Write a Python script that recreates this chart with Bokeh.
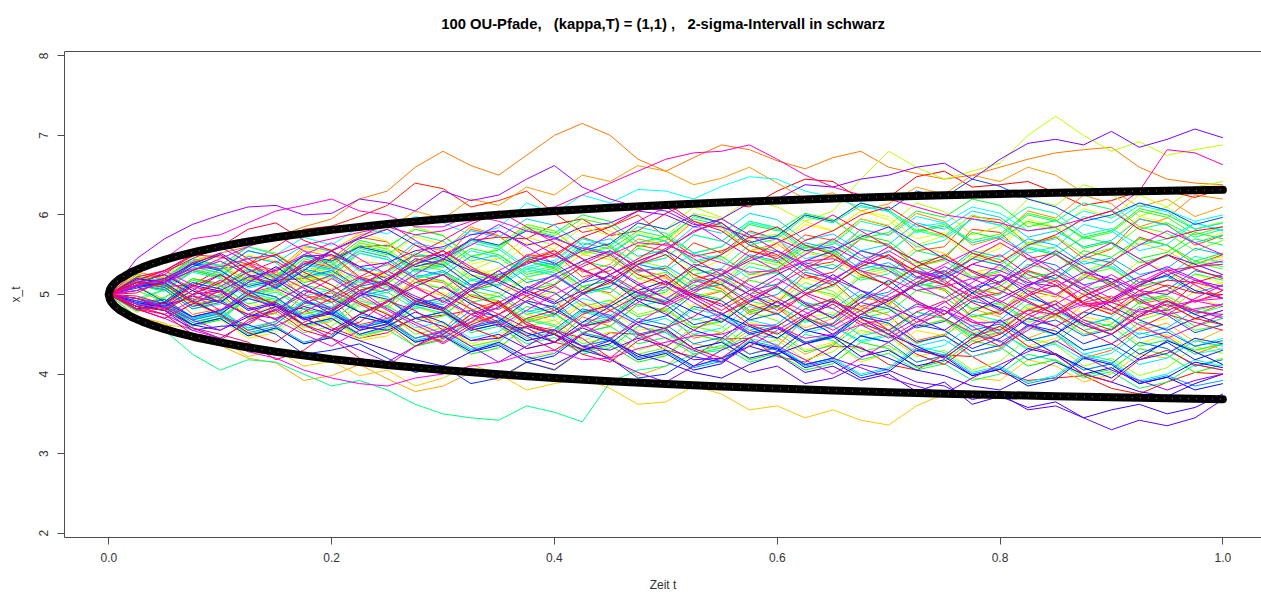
import colorsys
from bokeh.plotting import figure
from bokeh.models import LinearAxis, Range1d, FixedTicker, PrintfTickFormatter
from bokeh.embed import file_html
from bokeh.resources import INLINE

title_text = "100 OU-Pfade, \u00a0 (kappa,T) = (1,1) , \u00a0 2-sigma-Intervall in schwarz"
x_label = "Zeit t"
y_label = "x_t"
x_ticks = [0.0, 0.2, 0.4, 0.6, 0.8, 1.0]
y_ticks = [2, 3, 4, 5, 6, 7, 8]

# time grid of the read-off path samples
t_grid = [0.0, 0.025, 0.05, 0.075, 0.1, 0.125, 0.15, 0.175, 0.2, 0.225, 0.25,
          0.275, 0.3, 0.325, 0.35, 0.375, 0.4, 0.425, 0.45, 0.475, 0.5,
          0.525, 0.55, 0.575, 0.6, 0.625, 0.65, 0.675, 0.7, 0.725, 0.75,
          0.775, 0.8, 0.825, 0.85, 0.875, 0.9, 0.925, 0.95, 0.975, 1.0]

# 100 OU paths (path i is drawn in rainbow colour i)
x_paths = [
    [5, 5.16, 5.1, 5.12, 5.32, 5.38, 5.18, 5.2, 5.45, 5.6, 5.62, 5.48, 5.5, 5.68, 5.72, 5.7, 5.88, 5.95, 5.74, 5.8, 6.02, 6.18, 6.15, 6.1, 6.3, 6.45, 6.42, 6.2, 6.22, 6.48, 6.55, 6.35, 6.38, 6.42, 6.28, 6.12, 6.18, 6.3, 6.3, 6.22, 6.33],
    [5, 4.8, 4.88, 4.95, 4.72, 4.62, 4.85, 4.82, 4.58, 4.45, 4.52, 4.7, 4.74, 4.8, 4.6, 4.58, 4.4, 4.32, 4.52, 4.5, 4.3, 4.22, 4.44, 4.45, 4.22, 4.15, 4.35, 4.34, 4.12, 4.05, 4.24, 4.22, 4.02, 3.92, 3.95, 3.98, 3.82, 3.75, 3.9, 4.02, 4.0],
    [5, 5.2, 5.25, 5.5, 5.47, 5.38, 5.6, 5.82, 5.86, 5.98, 6.12, 6.4, 6.33, 6.1, 6.18, 6.3, 6.02, 5.78, 5.85, 6.0, 5.72, 5.48, 5.55, 5.68, 5.42, 5.2, 5.28, 5.55, 5.45, 5.3, 5.18, 4.95, 5.02, 5.3, 5.16, 4.88, 4.92, 5.2, 5.1, 4.9, 5.05],
    [5, 5.2, 5.14, 4.88, 4.93, 5.22, 5.1, 5.42, 5.34, 5.05, 5.16, 5.45, 5.38, 5.12, 5.2, 5.5, 5.47, 5.72, 5.6, 5.3, 5.33, 5.65, 5.52, 5.8, 5.7, 5.35, 5.41, 5.7, 5.63, 5.35, 5.45, 5.82, 5.78, 5.45, 5.52, 5.25, 5.38, 5.72, 5.62, 5.38, 5.5],
    [5, 4.8, 4.86, 5.1, 5.02, 4.7, 4.77, 5.05, 4.95, 4.62, 4.7, 4.45, 4.55, 4.9, 4.81, 5.05, 4.93, 4.6, 4.66, 4.95, 4.88, 5.18, 5.07, 4.8, 4.9, 5.25, 5.16, 4.85, 4.94, 4.65, 4.75, 5.08, 5.0, 5.3, 5.2, 4.9, 4.98, 4.72, 4.82, 5.15, 5.06],
    [5, 5.25, 5.2, 5.42, 5.31, 5.02, 5.1, 5.38, 5.45, 5.72, 5.66, 5.35, 5.42, 5.82, 5.74, 5.45, 5.52, 5.22, 5.3, 5.62, 5.55, 5.2, 5.26, 5.55, 5.48, 5.75, 5.68, 5.95, 5.86, 5.55, 5.6, 5.98, 5.94, 5.62, 5.72, 5.45, 5.57, 5.95, 5.88, 5.62, 5.74],
    [5, 4.85, 4.9, 5.2, 5.14, 5.4, 5.3, 4.95, 5.02, 4.78, 4.86, 5.2, 5.15, 4.8, 4.92, 4.65, 4.74, 5.1, 5.02, 5.32, 5.22, 4.95, 5.04, 4.75, 4.84, 4.55, 4.64, 4.98, 4.88, 5.15, 5.05, 4.72, 4.78, 5.05, 4.97, 5.25, 5.16, 4.88, 4.95, 4.75, 4.88],
    [5, 5.15, 5.07, 4.75, 4.82, 4.55, 4.66, 5.0, 4.9, 4.55, 4.62, 4.35, 4.45, 4.75, 4.64, 4.32, 4.4, 4.72, 4.6, 4.88, 4.78, 4.45, 4.52, 4.25, 4.35, 4.7, 4.6, 4.85, 4.74, 4.42, 4.5, 4.22, 4.32, 4.6, 4.5, 4.2, 4.3, 4.58, 4.47, 4.25, 4.38],
    [5, 5.15, 5.3, 5.42, 5.52, 5.6, 5.72, 5.85, 5.95, 6.2, 6.3, 6.6, 6.8, 6.62, 6.5, 6.75, 7.0, 7.15, 7.0, 6.7, 6.55, 6.72, 6.88, 6.82, 6.68, 6.58, 6.72, 6.8, 6.6, 6.52, 6.45, 6.5, 6.6, 6.7, 6.78, 6.82, 6.85, 6.6, 6.45, 6.4, 6.38],
    [5, 5.28, 5.22, 4.95, 5.04, 5.35, 5.28, 5.55, 5.48, 5.2, 5.3, 5.62, 5.55, 5.85, 5.74, 5.45, 5.56, 5.28, 5.38, 5.7, 5.62, 5.92, 5.85, 5.55, 5.64, 5.38, 5.48, 5.82, 5.75, 6.02, 5.92, 5.62, 5.72, 6.05, 5.96, 6.25, 6.14, 5.85, 5.96, 6.25, 6.2],
    [5, 5.22, 5.16, 5.4, 5.36, 5.18, 5.28, 5.6, 5.56, 5.75, 5.82, 6.05, 5.95, 6.2, 6.12, 6.35, 6.25, 6.5, 6.42, 6.62, 6.55, 6.38, 6.46, 6.6, 6.4, 6.2, 6.28, 6.05, 6.14, 6.35, 6.26, 6.5, 6.42, 6.6, 6.5, 6.28, 6.32, 6.1, 6.2, 5.98, 6.1],
    [5, 4.72, 4.64, 4.42, 4.36, 4.2, 4.14, 3.92, 3.98, 4.12, 3.94, 3.78, 3.85, 4.02, 3.92, 4.15, 4.06, 4.32, 4.22, 3.98, 4.1, 4.38, 4.32, 4.55, 4.46, 4.25, 4.38, 4.68, 4.62, 4.38, 4.5, 4.82, 4.72, 4.45, 4.58, 4.88, 4.76, 5.02, 4.92, 4.68, 4.8],
    [5, 4.78, 4.9, 4.62, 4.7, 4.98, 4.88, 4.58, 4.66, 4.95, 4.82, 5.1, 4.98, 4.65, 4.75, 4.5, 4.6, 4.88, 4.78, 5.02, 4.92, 5.2, 5.08, 4.78, 4.86, 4.58, 4.7, 4.98, 4.88, 4.6, 4.68, 4.42, 4.52, 4.82, 4.7, 4.98, 4.85, 4.55, 4.64, 4.4, 4.56],
    [5, 4.72, 4.62, 4.58, 4.45, 4.22, 4.3, 4.1, 4.16, 3.98, 4.05, 3.85, 3.95, 4.12, 4.0, 3.8, 3.88, 3.95, 3.82, 3.62, 3.65, 3.85, 3.75, 3.55, 3.6, 3.45, 3.55, 3.42, 3.36, 3.6, 3.75, 3.95, 3.92, 4.18, 4.1, 3.9, 4.0, 4.25, 4.2, 4.45, 4.3],
    [5, 5.15, 5.12, 5.3, 5.25, 5.05, 5.03, 5.18, 5.2, 5.42, 5.38, 5.15, 5.18, 4.95, 5.02, 5.22, 5.28, 5.5, 5.44, 5.25, 5.2, 4.98, 5.05, 5.25, 5.27, 5.52, 5.46, 5.22, 5.3, 5.6, 5.52, 5.28, 5.34, 5.12, 5.18, 5.45, 5.4, 5.65, 5.55, 5.35, 5.45],
    [5, 4.78, 4.83, 4.62, 4.68, 4.45, 4.52, 4.78, 4.7, 4.42, 4.48, 4.72, 4.64, 4.35, 4.42, 4.2, 4.28, 4.52, 4.45, 4.18, 4.25, 4.5, 4.42, 4.65, 4.58, 4.3, 4.4, 4.15, 4.26, 4.55, 4.48, 4.72, 4.62, 4.35, 4.45, 4.72, 4.65, 4.38, 4.5, 4.28, 4.4],
    [5, 5.15, 5.08, 5.32, 5.27, 5.5, 5.42, 5.18, 5.26, 5.55, 5.48, 5.72, 5.63, 5.38, 5.46, 5.22, 5.3, 5.6, 5.52, 5.78, 5.68, 5.92, 5.83, 5.55, 5.6, 5.88, 5.8, 6.05, 5.98, 5.7, 5.78, 5.5, 5.62, 5.95, 5.85, 5.6, 5.68, 5.98, 5.9, 5.65, 5.78],
    [5, 5.08, 4.94, 5.2, 5.1, 4.85, 4.9, 5.18, 5.07, 5.3, 5.23, 4.95, 5.03, 4.8, 4.88, 5.15, 5.04, 4.75, 4.82, 5.08, 4.99, 5.25, 5.15, 4.85, 4.93, 5.2, 5.12, 4.82, 4.9, 5.15, 5.06, 5.3, 5.22, 4.95, 5.0, 4.75, 4.86, 5.12, 5.02, 5.25, 5.14],
    [5, 5.2, 5.16, 4.92, 4.98, 4.75, 4.83, 4.58, 4.68, 4.92, 4.84, 4.55, 4.62, 4.38, 4.48, 4.75, 4.67, 4.9, 4.82, 4.55, 4.6, 4.88, 4.8, 5.05, 4.97, 4.7, 4.78, 4.5, 4.62, 4.88, 4.8, 4.52, 4.6, 4.85, 4.76, 5.02, 4.92, 4.62, 4.7, 4.95, 4.86],
    [5, 5.18, 5.23, 5.48, 5.42, 5.15, 5.24, 5.58, 5.52, 5.78, 5.67, 5.38, 5.48, 5.22, 5.33, 5.65, 5.57, 5.85, 5.74, 5.45, 5.58, 5.3, 5.43, 5.75, 5.64, 5.92, 5.8, 6.05, 5.94, 5.62, 5.74, 5.45, 5.58, 5.9, 5.8, 6.08, 5.97, 6.25, 6.1, 5.82, 5.92],
    [5, 4.82, 4.88, 5.15, 5.06, 4.75, 4.86, 4.62, 4.73, 5.02, 4.92, 5.2, 5.07, 5.35, 5.22, 4.95, 5.03, 4.78, 4.9, 5.2, 5.1, 4.82, 4.93, 4.68, 4.78, 5.08, 4.97, 5.25, 5.12, 5.4, 5.27, 5.0, 5.08, 4.82, 4.93, 5.25, 5.14, 5.42, 5.3, 5.05, 5.15],
    [5, 5.18, 5.1, 4.88, 4.95, 5.28, 5.2, 5.45, 5.35, 5.12, 5.28, 5.55, 5.5, 5.3, 5.45, 5.72, 5.62, 5.9, 5.8, 5.6, 5.74, 6.02, 5.95, 6.2, 6.1, 5.92, 6.05, 6.45, 6.8, 6.6, 6.45, 6.55, 6.65, 7.0, 7.24, 7.0, 6.8, 6.92, 6.75, 6.82, 6.88],
    [5, 5.2, 5.13, 5.42, 5.32, 5.6, 5.5, 5.25, 5.34, 5.65, 5.57, 5.85, 5.74, 5.45, 5.58, 5.88, 5.8, 5.5, 5.6, 5.9, 5.82, 6.1, 5.97, 5.7, 5.76, 5.55, 5.64, 5.95, 5.87, 6.15, 6.04, 5.75, 5.86, 6.2, 6.12, 6.38, 6.27, 5.98, 6.1, 6.35, 6.42],
    [5, 4.8, 4.87, 4.62, 4.74, 5.0, 4.92, 4.62, 4.7, 4.45, 4.56, 4.85, 4.74, 5.0, 4.9, 4.6, 4.68, 4.42, 4.53, 4.3, 4.4, 4.7, 4.6, 4.35, 4.43, 4.18, 4.28, 4.55, 4.47, 4.22, 4.3, 4.05, 4.16, 4.45, 4.37, 4.1, 4.2, 3.98, 4.08, 4.35, 4.26],
    [5, 5.15, 5.09, 4.85, 4.9, 5.2, 5.12, 5.35, 5.27, 5.0, 5.1, 4.85, 4.96, 5.25, 5.17, 5.42, 5.32, 5.05, 5.13, 5.42, 5.34, 5.08, 5.16, 5.45, 5.37, 5.62, 5.52, 5.25, 5.33, 5.1, 5.18, 5.48, 5.4, 5.65, 5.57, 5.3, 5.4, 5.7, 5.62, 5.38, 5.48],
    [5, 5.1, 4.94, 4.7, 4.78, 5.05, 4.97, 5.25, 5.12, 4.85, 4.93, 4.7, 4.78, 4.55, 4.63, 4.92, 4.84, 5.1, 5.0, 4.75, 4.83, 4.58, 4.68, 4.98, 4.9, 5.15, 5.04, 4.78, 4.86, 5.15, 5.07, 4.8, 4.88, 4.65, 4.73, 5.02, 4.94, 4.68, 4.78, 5.05, 4.96],
    [5, 5.25, 5.19, 5.45, 5.37, 5.6, 5.52, 5.28, 5.36, 5.65, 5.57, 5.32, 5.4, 5.7, 5.62, 5.88, 5.8, 5.52, 5.6, 5.38, 5.46, 5.75, 5.67, 5.92, 5.84, 5.58, 5.68, 5.45, 5.53, 5.82, 5.74, 6.0, 5.9, 5.65, 5.73, 5.5, 5.58, 5.85, 5.77, 5.55, 5.68],
    [5, 4.85, 4.8, 5.05, 4.97, 4.7, 4.76, 4.52, 4.6, 4.88, 4.77, 4.5, 4.58, 4.35, 4.43, 4.7, 4.62, 4.38, 4.46, 4.25, 4.33, 4.6, 4.52, 4.78, 4.67, 4.4, 4.5, 4.28, 4.36, 4.15, 4.23, 4.5, 4.42, 4.18, 4.26, 4.05, 4.13, 4.4, 4.32, 4.1, 4.2],
    [5, 4.92, 5.06, 5.3, 5.22, 4.98, 5.06, 4.85, 4.93, 5.22, 5.14, 5.38, 5.3, 5.05, 5.13, 5.42, 5.34, 5.55, 5.47, 5.2, 5.28, 5.05, 5.13, 5.4, 5.32, 5.55, 5.47, 5.7, 5.62, 5.35, 5.43, 5.2, 5.28, 5.58, 5.5, 5.25, 5.33, 5.1, 5.18, 5.4, 5.32],
    [5, 5.05, 4.91, 4.68, 4.76, 4.55, 4.63, 4.9, 4.82, 5.05, 4.97, 4.7, 4.78, 5.05, 4.97, 5.2, 5.12, 4.85, 4.93, 4.72, 4.8, 4.58, 4.66, 4.92, 4.84, 5.08, 5.0, 4.75, 4.83, 4.6, 4.68, 4.48, 4.56, 4.82, 4.74, 4.5, 4.58, 4.85, 4.77, 4.55, 4.62],
    [5, 5.22, 5.16, 4.92, 5.0, 5.3, 5.22, 5.48, 5.4, 5.62, 5.54, 5.3, 5.38, 5.68, 5.6, 5.82, 5.74, 5.95, 5.87, 5.6, 5.68, 5.98, 5.9, 5.65, 5.73, 6.0, 5.92, 6.15, 6.07, 5.8, 5.88, 5.68, 5.76, 6.02, 5.94, 5.7, 5.78, 6.05, 5.97, 5.75, 5.85],
    [5, 4.8, 4.87, 4.62, 4.7, 4.98, 4.9, 5.12, 5.04, 4.78, 4.86, 4.65, 4.73, 5.0, 4.92, 4.68, 4.76, 4.52, 4.6, 4.88, 4.8, 5.02, 4.94, 5.18, 5.1, 4.85, 4.93, 4.7, 4.78, 5.05, 4.97, 4.72, 4.8, 5.08, 5.0, 5.22, 5.14, 4.9, 4.98, 4.8, 4.88],
    [5, 5.18, 5.11, 5.35, 5.27, 5.0, 5.08, 5.38, 5.3, 5.05, 5.13, 5.42, 5.34, 5.58, 5.5, 5.25, 5.33, 5.1, 5.18, 4.95, 5.03, 5.32, 5.24, 5.48, 5.4, 5.62, 5.54, 5.28, 5.36, 5.15, 5.23, 5.52, 5.44, 5.2, 5.28, 5.55, 5.47, 5.7, 5.62, 5.42, 5.52],
    [5, 4.82, 4.89, 4.65, 4.73, 4.5, 4.58, 4.38, 4.46, 4.72, 4.64, 4.4, 4.48, 4.25, 4.33, 4.6, 4.52, 4.28, 4.36, 4.15, 4.23, 4.5, 4.42, 4.18, 4.26, 4.05, 4.13, 4.4, 4.32, 4.08, 4.16, 4.42, 4.34, 4.1, 4.18, 3.98, 4.06, 4.32, 4.24, 4.02, 4.12],
    [5, 5.12, 5.04, 5.3, 5.22, 5.48, 5.4, 5.15, 5.23, 5.52, 5.44, 5.2, 5.28, 5.05, 5.13, 5.42, 5.34, 5.58, 5.5, 5.75, 5.67, 5.4, 5.48, 5.25, 5.33, 5.6, 5.52, 5.75, 5.67, 5.4, 5.48, 5.78, 5.7, 5.92, 5.84, 5.58, 5.66, 5.45, 5.53, 5.78, 5.7],
    [5, 4.88, 4.96, 5.2, 5.12, 4.88, 4.96, 4.75, 4.83, 5.1, 5.02, 5.25, 5.17, 4.9, 4.98, 4.75, 4.83, 4.62, 4.7, 4.98, 4.9, 5.12, 5.04, 4.78, 4.86, 4.65, 4.73, 5.0, 4.92, 5.15, 5.07, 4.82, 4.9, 4.68, 4.76, 4.55, 4.63, 4.9, 4.82, 4.6, 4.7],
    [5, 5.15, 5.21, 5.45, 5.36, 5.12, 5.2, 5.5, 5.42, 5.68, 5.6, 5.82, 5.74, 5.48, 5.56, 5.85, 5.77, 6.0, 5.92, 5.65, 5.73, 5.52, 5.6, 5.88, 5.8, 6.02, 5.94, 5.7, 5.78, 6.05, 5.97, 6.2, 6.12, 5.85, 5.93, 5.72, 5.8, 6.08, 6.0, 5.82, 5.9],
    [5, 4.92, 4.84, 4.6, 4.68, 4.95, 4.87, 4.62, 4.7, 4.48, 4.56, 4.35, 4.43, 4.7, 4.62, 4.85, 4.77, 4.52, 4.6, 4.38, 4.46, 4.25, 4.33, 4.6, 4.52, 4.28, 4.36, 4.62, 4.54, 4.78, 4.7, 4.45, 4.53, 4.32, 4.4, 4.68, 4.6, 4.35, 4.43, 4.3, 4.38],
    [5, 5.15, 5.09, 4.85, 4.93, 5.22, 5.14, 4.9, 4.98, 4.78, 4.86, 5.15, 5.07, 5.3, 5.22, 5.45, 5.37, 5.1, 5.18, 4.98, 5.06, 5.32, 5.24, 5.0, 5.08, 4.85, 4.93, 5.22, 5.14, 5.35, 5.27, 5.02, 5.1, 5.38, 5.3, 5.05, 5.13, 4.92, 5.0, 5.26, 5.18],
    [5, 4.85, 4.91, 5.18, 5.1, 5.32, 5.24, 5.48, 5.4, 5.15, 5.23, 5.5, 5.42, 5.18, 5.26, 5.05, 5.13, 5.42, 5.34, 5.58, 5.5, 5.25, 5.33, 5.62, 5.54, 5.3, 5.38, 5.18, 5.26, 5.55, 5.47, 5.22, 5.3, 5.58, 5.5, 5.72, 5.64, 5.4, 5.48, 5.7, 5.62],
    [5, 4.95, 4.87, 4.62, 4.7, 4.48, 4.56, 4.82, 4.74, 4.5, 4.58, 4.85, 4.77, 4.52, 4.6, 4.38, 4.46, 4.25, 4.33, 4.6, 4.52, 4.28, 4.36, 4.15, 4.23, 4.5, 4.42, 4.18, 4.26, 4.05, 4.13, 3.92, 4.0, 4.25, 4.17, 3.95, 4.03, 3.82, 3.9, 4.12, 4.05],
    [5, 5.2, 5.13, 5.38, 5.3, 5.55, 5.47, 5.2, 5.28, 5.58, 5.5, 5.75, 5.67, 5.42, 5.5, 5.28, 5.36, 5.65, 5.57, 5.8, 5.72, 5.95, 5.87, 5.62, 5.7, 5.98, 5.9, 6.12, 6.04, 5.78, 5.86, 5.65, 5.73, 6.0, 5.92, 6.15, 6.07, 5.82, 5.9, 5.72, 5.82],
    [5, 4.72, 4.55, 4.25, 4.05, 4.18, 4.15, 4.0, 3.85, 3.92, 3.8, 3.62, 3.5, 3.45, 3.42, 3.6, 3.52, 3.4, 3.9, 4.05, 4.1, 4.25, 4.3, 4.5, 4.45, 4.68, 4.6, 4.42, 4.5, 4.78, 4.7, 4.5, 4.6, 4.88, 4.8, 4.6, 4.72, 4.98, 4.9, 4.75, 4.85],
    [5, 5.12, 5.06, 4.82, 4.88, 5.15, 5.07, 5.3, 5.22, 4.95, 5.03, 4.82, 4.9, 5.18, 5.1, 5.32, 5.24, 5.0, 5.08, 4.85, 4.93, 5.2, 5.12, 5.35, 5.27, 5.02, 5.1, 5.38, 5.3, 5.05, 5.13, 4.92, 5.0, 5.28, 5.2, 5.42, 5.34, 5.1, 5.18, 5.42, 5.35],
    [5, 4.82, 4.89, 4.68, 4.76, 5.02, 4.94, 4.7, 4.78, 4.55, 4.63, 4.9, 4.82, 4.58, 4.66, 4.45, 4.53, 4.8, 4.72, 4.48, 4.56, 4.82, 4.74, 4.5, 4.58, 4.38, 4.46, 4.72, 4.64, 4.4, 4.48, 4.75, 4.67, 4.42, 4.5, 4.3, 4.38, 4.65, 4.57, 4.35, 4.45],
    [5, 5.1, 5.16, 5.4, 5.32, 5.08, 5.16, 5.45, 5.37, 5.6, 5.52, 5.28, 5.36, 5.65, 5.57, 5.32, 5.4, 5.7, 5.62, 5.85, 5.77, 5.52, 5.6, 5.9, 5.82, 5.55, 5.63, 5.92, 5.84, 5.6, 5.68, 5.95, 5.87, 6.1, 6.02, 5.75, 5.83, 5.62, 5.7, 5.9, 5.8],
    [5, 4.85, 4.94, 4.72, 4.8, 4.58, 4.66, 4.92, 4.84, 4.6, 4.68, 4.45, 4.53, 4.32, 4.4, 4.68, 4.6, 4.35, 4.43, 4.22, 4.3, 4.1, 4.18, 4.45, 4.37, 4.12, 4.2, 4.0, 4.08, 4.35, 4.27, 4.02, 4.1, 3.9, 3.98, 4.25, 4.17, 3.92, 4.0, 4.18, 4.1],
    [5, 4.95, 5.06, 5.28, 5.2, 4.95, 5.03, 4.82, 4.9, 5.18, 5.1, 4.85, 4.93, 5.2, 5.12, 5.35, 5.27, 5.02, 5.1, 5.38, 5.3, 5.52, 5.44, 5.2, 5.28, 5.08, 5.16, 5.42, 5.34, 5.1, 5.18, 5.45, 5.37, 5.6, 5.52, 5.28, 5.36, 5.15, 5.23, 5.48, 5.4],
    [5, 4.8, 4.88, 5.15, 5.07, 5.3, 5.22, 4.98, 5.06, 5.35, 5.27, 5.52, 5.44, 5.68, 5.6, 5.35, 5.43, 5.7, 5.62, 5.38, 5.46, 5.75, 5.67, 5.92, 5.84, 5.58, 5.66, 5.45, 5.53, 5.8, 5.72, 5.95, 5.87, 5.62, 5.7, 5.98, 5.9, 6.12, 6.04, 5.82, 5.9],
    [5, 4.92, 4.84, 4.62, 4.7, 4.95, 4.87, 4.6, 4.68, 4.92, 4.84, 4.58, 4.66, 4.45, 4.53, 4.8, 4.72, 4.95, 4.87, 4.62, 4.7, 4.5, 4.58, 4.85, 4.77, 4.52, 4.6, 4.4, 4.48, 4.28, 4.36, 4.62, 4.54, 4.3, 4.38, 4.18, 4.26, 4.52, 4.44, 4.25, 4.32],
    [5, 5.15, 5.2, 5.42, 5.36, 5.6, 5.5, 5.72, 5.62, 5.85, 5.76, 5.98, 5.9, 5.75, 5.84, 6.15, 6.02, 6.25, 6.15, 6.32, 6.3, 6.2, 6.36, 6.48, 6.45, 6.3, 6.22, 6.1, 6.05, 5.85, 5.9, 6.1, 6.02, 5.8, 5.84, 6.05, 5.96, 6.15, 6.06, 5.92, 6.0],
    [5, 5.18, 5.11, 5.35, 5.27, 5.0, 5.08, 5.38, 5.3, 5.52, 5.44, 5.2, 5.28, 5.55, 5.47, 5.22, 5.3, 5.6, 5.52, 5.75, 5.67, 5.42, 5.5, 5.78, 5.7, 5.45, 5.53, 5.82, 5.74, 5.98, 5.9, 5.65, 5.73, 5.52, 5.6, 5.88, 5.8, 5.55, 5.63, 5.9, 5.8],
    [5, 4.85, 4.91, 4.7, 4.78, 4.58, 4.66, 4.92, 4.84, 5.05, 4.97, 4.7, 4.78, 4.55, 4.63, 4.42, 4.5, 4.78, 4.7, 4.45, 4.53, 4.32, 4.4, 4.68, 4.6, 4.82, 4.74, 4.48, 4.56, 4.35, 4.43, 4.22, 4.3, 4.58, 4.5, 4.25, 4.33, 4.12, 4.2, 4.42, 4.35],
    [5, 5.15, 5.09, 5.32, 5.24, 5.48, 5.4, 5.62, 5.54, 5.3, 5.37, 5.65, 5.57, 5.8, 5.72, 5.95, 5.87, 5.62, 5.7, 5.48, 5.56, 5.85, 5.77, 6.02, 5.94, 5.68, 5.76, 5.55, 5.63, 5.9, 5.82, 6.05, 5.97, 5.72, 5.8, 5.6, 5.68, 5.95, 5.87, 5.65, 5.75],
    [5, 4.88, 4.94, 4.7, 4.78, 5.05, 4.97, 4.72, 4.8, 4.6, 4.68, 4.95, 4.87, 5.1, 5.02, 4.78, 4.86, 4.65, 4.73, 5.0, 4.92, 4.68, 4.76, 4.55, 4.63, 4.9, 4.82, 5.05, 4.97, 4.72, 4.8, 4.6, 4.68, 4.95, 4.87, 4.62, 4.7, 4.5, 4.58, 4.8, 4.72],
    [5, 5.2, 5.13, 4.9, 4.98, 5.25, 5.17, 5.4, 5.32, 5.55, 5.47, 5.22, 5.3, 5.1, 5.18, 5.45, 5.37, 5.6, 5.52, 5.28, 5.36, 5.15, 5.23, 5.5, 5.42, 5.65, 5.57, 5.32, 5.4, 5.2, 5.28, 5.55, 5.47, 5.7, 5.62, 5.38, 5.46, 5.25, 5.33, 5.58, 5.5],
    [5, 4.8, 4.87, 4.65, 4.73, 4.52, 4.6, 4.4, 4.48, 4.75, 4.67, 4.42, 4.5, 4.3, 4.38, 4.18, 4.26, 4.52, 4.44, 4.2, 4.28, 4.08, 4.16, 4.42, 4.34, 4.1, 4.18, 3.98, 4.06, 4.32, 4.24, 4.0, 4.08, 3.88, 3.96, 4.22, 4.14, 3.9, 3.98, 3.85, 3.92],
    [5, 5.12, 5.06, 4.82, 4.9, 5.18, 5.1, 5.32, 5.24, 4.98, 5.06, 5.32, 5.24, 5.48, 5.4, 5.15, 5.23, 5.02, 5.1, 5.38, 5.3, 5.05, 5.13, 4.92, 5.0, 5.28, 5.2, 4.95, 5.03, 5.3, 5.22, 5.45, 5.37, 5.12, 5.2, 5.48, 5.4, 5.15, 5.23, 5.02, 5.12],
    [5, 4.95, 4.89, 4.68, 4.76, 4.55, 4.63, 4.9, 4.82, 4.58, 4.66, 4.45, 4.53, 4.8, 4.72, 4.48, 4.56, 4.35, 4.43, 4.7, 4.62, 4.38, 4.46, 4.25, 4.33, 4.12, 4.2, 4.48, 4.4, 4.15, 4.23, 4.5, 4.42, 4.18, 4.26, 4.05, 4.13, 4.4, 4.32, 4.1, 4.18],
    [5, 5.1, 5.16, 5.4, 5.32, 5.55, 5.47, 5.22, 5.3, 5.1, 5.18, 5.45, 5.37, 5.12, 5.2, 5.48, 5.4, 5.15, 5.23, 5.02, 5.1, 5.38, 5.3, 5.05, 5.13, 5.4, 5.32, 5.55, 5.47, 5.22, 5.3, 5.08, 5.16, 5.45, 5.37, 5.12, 5.2, 4.98, 5.06, 5.3, 5.22],
    [5, 4.85, 4.94, 4.72, 4.8, 5.05, 4.97, 4.7, 4.78, 4.58, 4.66, 4.92, 4.84, 4.6, 4.68, 4.48, 4.56, 4.82, 4.74, 4.5, 4.58, 4.85, 4.77, 4.52, 4.6, 4.4, 4.48, 4.75, 4.67, 4.88, 4.8, 4.55, 4.63, 4.42, 4.5, 4.78, 4.7, 4.45, 4.53, 4.35, 4.42],
    [5, 5.15, 5.09, 4.85, 4.93, 4.72, 4.8, 5.05, 4.97, 5.2, 5.12, 4.88, 4.96, 4.75, 4.83, 5.1, 5.02, 4.78, 4.86, 4.65, 4.73, 5.0, 4.92, 4.68, 4.76, 4.55, 4.63, 4.9, 4.82, 4.58, 4.66, 4.92, 4.84, 4.6, 4.68, 4.48, 4.56, 4.82, 4.74, 4.52, 4.62],
    [5, 5.08, 5.15, 5.38, 5.3, 5.1, 5.18, 5.5, 5.42, 5.6, 5.52, 5.35, 5.44, 5.7, 5.62, 5.8, 5.72, 5.55, 5.64, 5.9, 5.82, 6.0, 5.9, 5.65, 5.74, 6.0, 5.92, 6.15, 6.06, 6.3, 6.22, 6.45, 6.36, 6.2, 6.1, 5.92, 6.0, 6.15, 6.06, 5.88, 5.97],
    [5, 5.1, 4.91, 5.15, 5.07, 4.82, 4.9, 4.7, 4.78, 5.02, 4.94, 4.7, 4.78, 4.58, 4.66, 4.92, 4.84, 4.6, 4.68, 4.95, 4.87, 4.62, 4.7, 4.5, 4.58, 4.38, 4.46, 4.72, 4.64, 4.4, 4.48, 4.28, 4.36, 4.62, 4.54, 4.3, 4.38, 4.18, 4.26, 4.45, 4.38],
    [5, 4.85, 4.8, 4.55, 4.6, 4.62, 4.5, 4.25, 4.3, 4.38, 4.2, 4.02, 4.1, 3.88, 3.95, 4.15, 4.05, 4.3, 4.2, 3.95, 4.0, 4.22, 4.15, 4.4, 4.3, 4.12, 4.2, 4.48, 4.4, 4.62, 4.55, 4.32, 4.45, 4.7, 4.6, 4.38, 4.5, 4.25, 4.4, 4.18, 4.3],
    [5, 5.1, 5.15, 5.35, 5.5, 5.25, 5.08, 5.3, 5.55, 5.35, 5.15, 4.95, 4.82, 5.08, 5.3, 5.05, 4.9, 5.15, 5.35, 5.12, 4.95, 4.78, 4.65, 4.9, 5.1, 4.88, 4.7, 4.95, 5.18, 4.92, 4.75, 5.02, 5.25, 5.0, 4.82, 4.62, 4.5, 4.72, 4.92, 4.75, 4.62],
    [5, 4.9, 4.84, 4.62, 4.7, 4.48, 4.58, 4.38, 4.46, 4.72, 4.64, 4.4, 4.48, 4.28, 4.36, 4.15, 4.23, 4.5, 4.42, 4.18, 4.26, 4.05, 4.13, 4.4, 4.32, 4.08, 4.16, 3.95, 4.03, 4.3, 4.22, 3.98, 4.06, 3.85, 3.93, 4.2, 4.12, 3.88, 3.96, 3.8, 3.88],
    [5, 5.15, 5.25, 5.05, 4.9, 5.15, 5.35, 5.12, 4.95, 4.78, 4.65, 4.9, 5.1, 4.88, 4.7, 4.52, 4.4, 4.65, 4.85, 5.05, 5.17, 4.95, 4.75, 4.6, 4.45, 4.7, 4.92, 4.7, 4.5, 4.35, 4.2, 4.45, 4.68, 4.45, 4.25, 4.08, 3.95, 4.2, 4.42, 4.28, 4.12],
    [5, 4.82, 4.89, 5.12, 5.04, 4.8, 4.88, 4.68, 4.76, 4.55, 4.63, 4.88, 4.8, 4.55, 4.63, 4.42, 4.5, 4.3, 4.38, 4.65, 4.57, 4.32, 4.4, 4.2, 4.28, 4.55, 4.47, 4.22, 4.3, 4.1, 4.18, 3.98, 4.06, 4.32, 4.24, 4.0, 4.08, 3.88, 3.96, 4.15, 4.08],
    [5, 5.2, 5.15, 4.92, 4.75, 5.0, 5.18, 4.95, 4.75, 4.98, 5.18, 5.38, 5.5, 5.25, 5.08, 4.9, 4.75, 5.0, 5.18, 4.92, 4.75, 4.55, 4.45, 4.7, 4.92, 4.7, 4.5, 4.75, 4.92, 5.12, 5.25, 5.02, 4.82, 4.62, 4.5, 4.72, 4.92, 5.12, 5.25, 5.05, 4.95],
    [5, 4.88, 4.8, 4.62, 4.55, 4.72, 4.85, 4.7, 4.55, 4.42, 4.3, 4.18, 4.1, 4.28, 4.4, 4.22, 4.12, 4.3, 4.42, 4.25, 4.15, 4.02, 3.95, 4.12, 4.25, 4.38, 4.48, 4.32, 4.2, 4.05, 3.98, 3.85, 3.8, 3.98, 4.15, 4.0, 3.9, 3.78, 3.72, 3.88, 4.0],
    [5, 4.82, 4.9, 4.72, 4.8, 4.95, 4.85, 4.62, 4.7, 4.5, 4.6, 4.78, 4.65, 4.42, 4.5, 4.32, 4.4, 4.58, 4.45, 4.22, 4.3, 4.1, 4.2, 4.35, 4.25, 4.02, 4.1, 3.92, 4.0, 3.78, 3.9, 3.62, 3.72, 3.58, 3.65, 3.45, 3.55, 3.62, 3.5, 3.58, 3.75],
    [5, 5.12, 5.2, 5.38, 5.52, 5.32, 5.15, 5.35, 5.55, 5.7, 5.82, 5.62, 5.45, 5.3, 5.18, 5.02, 4.88, 5.05, 5.25, 5.42, 5.55, 5.35, 5.18, 5.0, 4.85, 5.05, 5.25, 5.05, 4.85, 4.7, 4.55, 4.78, 4.95, 5.12, 5.25, 5.05, 4.85, 4.68, 4.55, 4.7, 4.8],
    [5, 4.92, 4.85, 4.98, 4.9, 4.75, 4.7, 4.85, 4.75, 4.6, 4.55, 4.7, 4.6, 4.42, 4.45, 4.6, 4.5, 4.35, 4.3, 4.45, 4.35, 4.18, 4.2, 4.02, 4.1, 3.88, 3.95, 4.12, 4.05, 3.9, 3.85, 3.68, 3.75, 3.55, 3.6, 3.45, 3.3, 3.42, 3.35, 3.45, 3.68],
    [5, 4.95, 4.85, 5.05, 5.25, 5.05, 4.85, 4.7, 4.55, 4.75, 4.92, 5.1, 5.25, 5.05, 4.85, 5.05, 5.25, 5.42, 5.55, 5.35, 5.15, 5.0, 4.85, 5.05, 5.25, 5.42, 5.55, 5.72, 5.85, 5.65, 5.45, 5.3, 5.15, 5.35, 5.55, 5.35, 5.15, 5.32, 5.5, 5.38, 5.25],
    [5, 5.12, 5.2, 5.0, 5.05, 5.22, 5.3, 5.48, 5.5, 5.35, 5.4, 5.55, 5.6, 5.75, 5.8, 5.62, 5.7, 5.85, 5.9, 6.05, 6.0, 5.85, 5.95, 6.15, 6.2, 6.38, 6.35, 6.45, 6.5, 6.6, 6.65, 6.45, 6.7, 6.9, 6.95, 6.88, 7.05, 6.85, 6.95, 7.08, 6.97],
    [5, 4.85, 4.75, 4.58, 4.45, 4.65, 4.82, 4.62, 4.45, 4.3, 4.15, 4.35, 4.55, 4.35, 4.15, 4.35, 4.55, 4.35, 4.18, 4.02, 3.9, 4.1, 4.3, 4.45, 4.6, 4.4, 4.2, 4.08, 3.95, 3.85, 3.75, 3.95, 4.12, 4.28, 4.42, 4.22, 4.05, 3.92, 3.8, 3.92, 4.0],
    [5, 5.45, 5.7, 5.88, 6.0, 6.1, 6.12, 6.0, 6.02, 6.2, 6.15, 6.05, 6.3, 6.18, 6.25, 6.45, 6.62, 6.35, 6.2, 6.1, 6.05, 5.88, 5.85, 5.72, 5.7, 5.55, 5.6, 5.42, 5.35, 5.28, 5.2, 5.38, 5.3, 5.15, 5.1, 5.28, 5.2, 5.05, 5.0, 5.18, 5.1],
    [5, 5.05, 5.15, 5.3, 5.42, 5.25, 5.08, 4.92, 4.8, 4.98, 5.15, 4.98, 4.83, 5.05, 5.25, 5.38, 5.5, 5.32, 5.15, 5.02, 4.9, 5.08, 5.25, 5.42, 5.55, 5.38, 5.2, 5.05, 4.92, 5.15, 5.35, 5.2, 5.05, 4.9, 4.75, 4.92, 5.08, 5.22, 5.35, 5.2, 5.05],
    [5, 5.12, 5.28, 5.45, 5.6, 5.4, 5.2, 5.38, 5.55, 5.72, 5.9, 5.68, 5.48, 5.68, 5.88, 5.7, 5.5, 5.32, 5.15, 5.38, 5.58, 5.78, 5.95, 5.75, 5.55, 5.35, 5.18, 5.4, 5.6, 5.42, 5.25, 5.05, 4.9, 5.1, 5.3, 5.48, 5.65, 5.45, 5.25, 5.35, 5.42],
    [5, 4.95, 4.85, 4.68, 4.55, 4.75, 4.92, 5.1, 5.25, 5.05, 4.82, 4.65, 4.5, 4.7, 4.9, 5.08, 5.25, 5.02, 4.8, 4.62, 4.45, 4.3, 4.15, 4.35, 4.55, 4.75, 4.92, 4.7, 4.5, 4.7, 4.9, 5.08, 5.25, 5.05, 4.82, 4.65, 4.5, 4.72, 4.92, 4.8, 4.7],
    [5, 5.05, 5.15, 5.3, 5.45, 5.6, 5.75, 5.55, 5.35, 5.2, 5.05, 5.25, 5.45, 5.62, 5.8, 5.6, 5.38, 5.55, 5.75, 5.92, 6.1, 5.9, 5.68, 5.48, 5.3, 5.5, 5.7, 5.5, 5.3, 5.12, 4.95, 5.15, 5.38, 5.18, 5.0, 5.2, 5.42, 5.62, 5.8, 5.65, 5.5],
    [5, 4.82, 4.7, 4.88, 5.05, 4.85, 4.68, 4.5, 4.35, 4.55, 4.75, 4.55, 4.38, 4.58, 4.75, 4.92, 5.1, 4.9, 4.7, 4.9, 5.1, 4.9, 4.7, 4.52, 4.35, 4.18, 4.0, 4.2, 4.4, 4.6, 4.8, 4.6, 4.4, 4.6, 4.8, 4.98, 5.15, 4.95, 4.75, 4.82, 4.88],
    [5, 4.82, 4.7, 4.55, 4.45, 4.28, 4.2, 4.05, 3.95, 3.88, 3.85, 3.95, 4.0, 4.1, 4.15, 4.25, 4.3, 4.18, 4.2, 4.32, 4.4, 4.48, 4.5, 4.62, 4.6, 4.45, 4.5, 4.62, 4.7, 4.85, 4.8, 4.65, 4.65, 4.8, 4.75, 4.88, 4.9, 4.78, 4.8, 4.92, 4.85],
    [5, 5.18, 5.3, 5.12, 4.95, 5.15, 5.32, 5.5, 5.65, 5.45, 5.25, 5.08, 4.92, 4.75, 4.6, 4.8, 5.0, 5.18, 5.35, 5.15, 4.95, 5.15, 5.32, 5.12, 4.95, 4.78, 4.6, 4.8, 5.0, 5.2, 5.38, 5.55, 5.7, 5.5, 5.3, 5.12, 4.95, 5.15, 5.32, 5.18, 5.05],
    [5, 5.3, 5.45, 5.7, 5.75, 5.9, 6.05, 6.12, 6.2, 6.05, 6.0, 5.85, 5.85, 6.0, 5.92, 5.8, 5.7, 5.58, 5.5, 5.65, 5.62, 5.5, 5.4, 5.28, 5.3, 5.42, 5.45, 5.3, 5.2, 5.05, 5.1, 5.2, 5.25, 5.1, 5.0, 4.85, 4.9, 5.0, 5.05, 4.92, 4.95],
    [5, 4.88, 4.82, 5.0, 5.18, 5.0, 4.8, 5.0, 5.2, 5.0, 4.8, 4.62, 4.45, 4.65, 4.85, 5.02, 5.2, 5.38, 5.55, 5.35, 5.15, 4.98, 4.8, 5.0, 5.2, 5.0, 4.82, 4.62, 4.45, 4.65, 4.85, 4.68, 4.5, 4.7, 4.88, 5.08, 5.25, 5.05, 4.85, 4.92, 5.0],
    [5, 5.12, 5.18, 5.0, 4.8, 5.0, 5.2, 5.0, 4.82, 5.02, 5.2, 5.38, 5.55, 5.35, 5.15, 4.98, 4.8, 4.62, 4.45, 4.65, 4.85, 5.02, 5.2, 5.0, 4.8, 5.0, 5.2, 5.38, 5.55, 5.35, 5.15, 4.98, 4.8, 5.0, 5.18, 5.0, 4.8, 4.62, 4.45, 4.6, 4.75],
    [5, 5.1, 5.2, 5.32, 5.35, 5.45, 5.5, 5.62, 5.7, 5.78, 5.85, 5.75, 5.8, 5.92, 6.0, 6.05, 6.1, 6.25, 6.4, 6.55, 6.7, 6.78, 6.8, 6.88, 6.7, 6.5, 6.35, 6.25, 6.2, 6.1, 6.0, 5.95, 5.9, 5.8, 5.85, 5.95, 6.05, 6.3, 6.82, 6.78, 6.63],
    [5, 4.85, 4.75, 4.92, 5.1, 5.28, 5.42, 5.22, 5.05, 4.88, 4.7, 4.9, 5.1, 4.92, 4.75, 4.58, 4.4, 4.6, 4.8, 4.98, 5.15, 4.95, 4.75, 4.95, 5.12, 5.32, 5.5, 5.3, 5.1, 4.92, 4.75, 4.95, 5.15, 5.32, 5.5, 5.3, 5.1, 4.92, 4.75, 4.95, 5.12],
    [5, 5.15, 5.25, 5.08, 4.9, 4.75, 4.6, 4.78, 4.95, 5.12, 5.3, 5.1, 4.9, 5.1, 5.3, 5.48, 5.65, 5.45, 5.25, 5.05, 4.88, 5.05, 5.25, 5.08, 4.9, 4.72, 4.55, 4.75, 4.95, 5.12, 5.3, 5.1, 4.92, 4.75, 4.6, 4.78, 4.95, 5.12, 5.3, 5.12, 4.95],
    [5, 4.82, 4.7, 4.88, 5.05, 4.85, 4.68, 4.88, 5.05, 5.22, 5.4, 5.2, 5.0, 4.82, 4.65, 4.48, 4.3, 4.5, 4.7, 4.52, 4.35, 4.55, 4.75, 4.92, 5.1, 4.9, 4.7, 4.9, 5.1, 4.9, 4.7, 4.52, 4.35, 4.55, 4.75, 4.55, 4.38, 4.58, 4.75, 4.65, 4.55],
    [5, 5.18, 5.3, 5.48, 5.65, 5.45, 5.25, 5.08, 4.9, 5.1, 5.3, 5.5, 5.68, 5.88, 6.05, 5.85, 5.65, 5.45, 5.25, 5.45, 5.65, 5.45, 5.25, 5.45, 5.65, 5.82, 6.0, 5.8, 5.6, 5.42, 5.25, 5.45, 5.65, 5.45, 5.25, 5.08, 4.9, 5.1, 5.3, 5.35, 5.38],
    [5, 4.95, 4.82, 4.58, 4.5, 4.4, 4.18, 4.3, 4.55, 4.65, 4.92, 4.8, 4.55, 4.65, 4.92, 4.62, 4.55, 4.45, 4.2, 4.48, 4.58, 4.72, 4.95, 5.2, 5.3, 5.02, 4.9, 4.8, 4.55, 4.78, 4.92, 4.65, 4.55, 4.8, 4.92, 4.68, 4.55, 4.8, 4.92, 4.78, 4.75],
    [5, 5.02, 5.18, 5.4, 5.5, 5.25, 5.12, 5.38, 5.5, 5.22, 5.12, 4.92, 4.8, 5.05, 5.18, 5.42, 5.55, 5.3, 5.18, 5.42, 5.55, 5.8, 5.9, 5.62, 5.5, 5.25, 5.12, 5.35, 5.5, 5.22, 5.12, 5.38, 5.5, 5.25, 5.12, 4.9, 4.8, 5.05, 5.18, 5.15, 5.25],
    [5, 4.82, 4.75, 4.5, 4.42, 4.68, 4.8, 4.55, 4.45, 4.2, 4.1, 4.35, 4.5, 4.75, 4.9, 4.65, 4.5, 4.25, 4.15, 4.42, 4.55, 4.32, 4.2, 4.45, 4.6, 4.82, 4.95, 4.7, 4.55, 4.32, 4.2, 4.45, 4.6, 4.35, 4.25, 4.0, 3.9, 4.18, 4.3, 4.12, 4.05],
    [5, 5.22, 5.3, 5.5, 5.6, 5.82, 5.9, 5.68, 5.55, 5.32, 5.2, 5.42, 5.55, 5.32, 5.2, 5.4, 5.5, 5.72, 5.85, 6.05, 6.15, 5.92, 5.8, 5.55, 5.45, 5.68, 5.8, 6.0, 6.1, 5.88, 5.75, 5.52, 5.4, 5.62, 5.75, 5.95, 6.05, 5.82, 5.7, 5.8, 5.85],
    [5, 4.98, 4.88, 5.1, 5.25, 5.0, 4.88, 4.62, 4.5, 4.75, 4.9, 5.15, 5.25, 4.98, 4.88, 4.62, 4.5, 4.75, 4.88, 5.12, 5.25, 4.98, 4.88, 4.62, 4.5, 4.72, 4.88, 4.65, 4.5, 4.25, 4.12, 4.38, 4.5, 4.75, 4.88, 4.62, 4.5, 4.75, 4.88, 4.7, 4.62],
    [5, 5.15, 5.12, 4.9, 4.75, 4.52, 4.4, 4.65, 4.8, 5.05, 5.15, 4.92, 4.8, 4.58, 4.45, 4.7, 4.8, 5.02, 5.15, 5.38, 5.5, 5.25, 5.12, 4.88, 4.75, 5.0, 5.12, 5.35, 5.5, 5.28, 5.12, 4.9, 4.75, 4.98, 5.12, 4.88, 4.75, 4.98, 5.12, 5.02, 5.0],
    [5, 4.85, 4.8, 5.0, 5.15, 5.38, 5.5, 5.28, 5.12, 4.9, 4.75, 4.55, 4.4, 4.62, 4.75, 4.98, 5.12, 5.35, 5.5, 5.25, 5.12, 5.35, 5.5, 5.72, 5.85, 5.62, 5.5, 5.25, 5.12, 5.35, 5.5, 5.28, 5.12, 4.92, 4.75, 4.98, 5.12, 5.35, 5.5, 5.32, 5.2],
]

# 2-sigma interval (black)
band_t = [0.0, 0.001, 0.0025, 0.005, 0.01, 0.02, 0.03, 0.04, 0.05, 0.06, 0.08, 0.10, 0.12, 0.15,
          0.2, 0.25, 0.3, 0.35, 0.4, 0.45, 0.5, 0.55, 0.6, 0.65, 0.7, 0.75, 0.8, 0.85, 0.9, 0.95, 1.0]
band_upper = [5.0, 5.063, 5.10, 5.141, 5.199, 5.280, 5.341, 5.392, 5.436, 5.476, 5.544, 5.602, 5.653, 5.720,
              5.812, 5.887, 5.950, 6.003, 6.049, 6.089, 6.124, 6.155, 6.182, 6.206, 6.228, 6.247, 6.263,
              6.279, 6.292, 6.304, 6.315]
band_lower = [5.0, 4.937, 4.90, 4.859, 4.801, 4.720, 4.659, 4.608, 4.564, 4.524, 4.456, 4.398, 4.347, 4.280,
              4.188, 4.113, 4.050, 3.997, 3.951, 3.911, 3.876, 3.845, 3.818, 3.794, 3.772, 3.753, 3.737,
              3.721, 3.708, 3.696, 3.685]

FONT = "Liberation Sans"
AX = "#4d4d4d"

p = figure(width=1261, height=594, output_backend="svg", toolbar_location=None,
           x_range=Range1d(-0.0398, 1.0347), y_range=Range1d(1.946, 8.054),
           min_border_left=64, min_border_right=0, min_border_top=51, min_border_bottom=57,
           background_fill_color="white", border_fill_color="white")
p.outline_line_color = None
p.grid.visible = False

n = len(x_paths)
for i, ys in enumerate(x_paths):
    r, g, b = colorsys.hsv_to_rgb(i / n, 1.0, 1.0)
    col = "#%02x%02x%02x" % (int(round(r * 255)), int(round(g * 255)), int(round(b * 255)))
    m = min(len(t_grid), len(ys))
    p.line(t_grid[:m], ys[:m], line_color=col, line_width=1)

for band in (band_upper, band_lower):
    p.line(band_t, band, line_color="black", line_width=8, line_join="round", line_cap="round")
    p.line(band_t, band, line_color="#8c8c8c", line_width=1.2, line_dash="1 7", line_alpha=0.7)

# bottom axis
xa = p.xaxis[0]
xa.ticker = FixedTicker(ticks=x_ticks)
xa.formatter = PrintfTickFormatter(format="%.1f")
xa.axis_label = x_label
# left axis
ya = p.yaxis[0]
ya.ticker = FixedTicker(ticks=y_ticks)
ya.axis_label = y_label
ya.major_label_orientation = "vertical"

for ax in (xa, ya):
    ax.axis_line_color = AX
    ax.major_tick_line_color = AX
    ax.major_tick_out = 7
    ax.major_tick_in = 0
    ax.minor_tick_out = 0
    ax.minor_tick_in = 0
    ax.major_label_text_font = FONT
    ax.major_label_text_font_size = "12px"
    ax.major_label_text_color = "#333333"
    ax.axis_label_text_font = FONT
    ax.axis_label_text_font_size = "12px"
    ax.axis_label_text_font_style = "normal"
    ax.axis_label_text_color = "#333333"
xa.major_label_standoff = 8
xa.axis_label_standoff = 13
ya.major_label_standoff = 9
ya.axis_label_standoff = 14

# top frame line carrying the title
top = LinearAxis(ticker=FixedTicker(ticks=[]), axis_line_color=AX,
                 major_tick_out=0, major_tick_in=0, minor_tick_out=0, minor_tick_in=0,
                 axis_label=title_text, axis_label_text_font=FONT,
                 axis_label_text_font_size="14.8px", axis_label_text_font_style="bold",
                 axis_label_text_color="black", axis_label_standoff=20)
p.add_layout(top, "above")

open("out.html", "w").write(file_html(p, INLINE))
